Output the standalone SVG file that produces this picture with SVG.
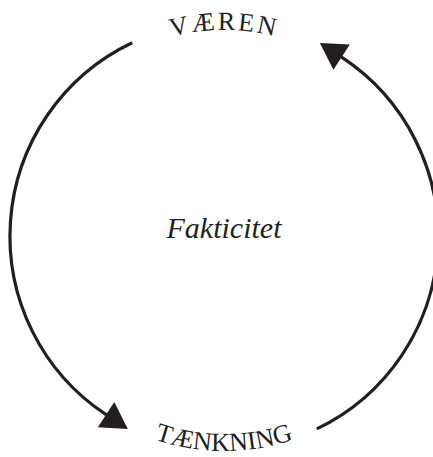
<svg xmlns="http://www.w3.org/2000/svg" width="433" height="457" viewBox="0 0 433 457">
  <style>
    .lbl { font-family: "Liberation Serif", "Times New Roman", serif; fill: #231f20; font-size: 26px; }
    .center { font-family: "Liberation Serif", "Times New Roman", serif; font-style: italic; fill: #231f20; font-size: 30px; }
    .conn { fill: none; stroke: #231f20; stroke-width: 3.2; stroke-linecap: butt; }
  </style>
  <defs>
    <marker id="ah" viewBox="0 0 30 32" markerWidth="30" markerHeight="32" refX="0.5" refY="16" orient="auto" markerUnits="userSpaceOnUse" overflow="visible">
      <path d="M0 1 L26 16 L0 31 Z" fill="#231f20"/>
    </marker>
    <path id="topArc" d="M91.6 78.2 A206 206 0 0 1 356.4 78.2"/>
    <path id="botArc" d="M86.4 400.9 A214 214 0 0 0 361.6 400.9"/>
  </defs>

  <g id="connectors">
    <path class="conn" d="M132.2 42.7 A214 214 0 0 0 106.5 414.9" marker-end="url(#ah)"/>
    <path class="conn" d="M316.8 428.9 A214 214 0 0 0 341.2 56.9" marker-end="url(#ah)"/>
  </g>

  <g id="node-vaeren">
    <text class="lbl" letter-spacing="2.5" text-anchor="middle"><textPath href="#topArc" startOffset="50%">VÆREN</textPath></text>
  </g>

  <g id="node-taenkning">
    <text class="lbl" text-anchor="middle"><textPath href="#botArc" startOffset="50%">TÆNKNING</textPath></text>
  </g>

  <g id="node-fakticitet">
    <text class="center" x="224" y="238" text-anchor="middle">Fakticitet</text>
  </g>
</svg>
